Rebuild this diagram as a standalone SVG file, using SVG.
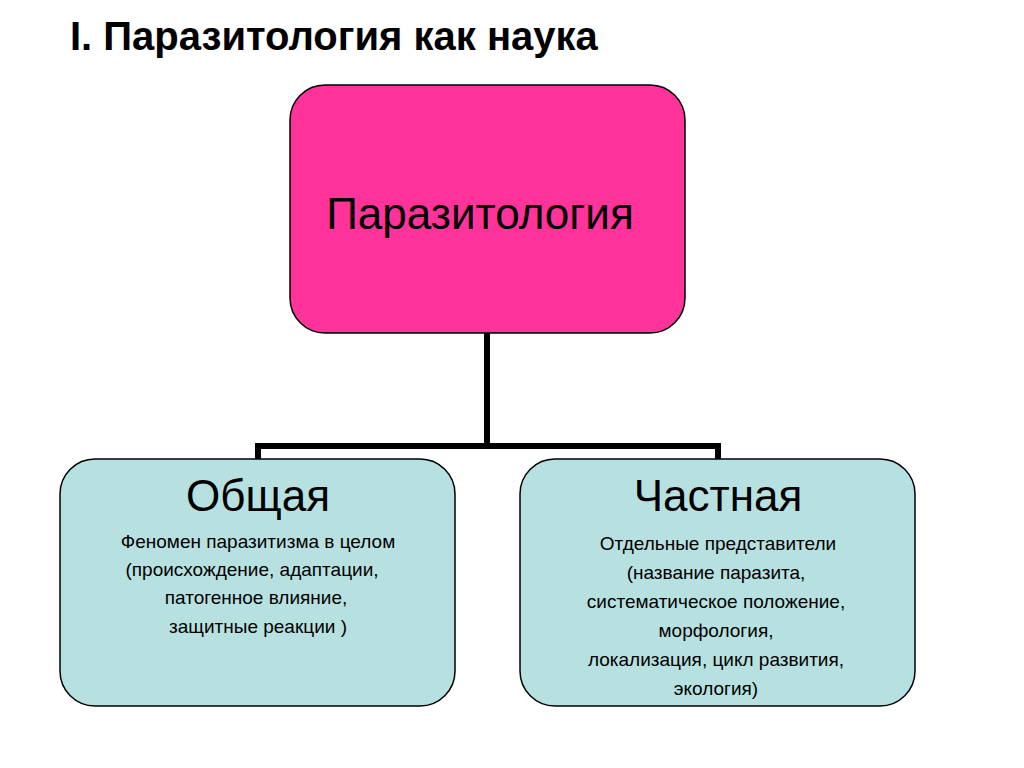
<svg xmlns="http://www.w3.org/2000/svg" width="1024" height="768" viewBox="0 0 1024 768">
<style>
text{font-family:"Liberation Sans",Arial,sans-serif;fill:#000;text-anchor:middle}
.box{fill:#b7e1e1;stroke:#000;stroke-width:1.5}
.s{font-size:19px}
.c{fill:none;stroke:#000;stroke-width:6}
</style>
<rect width="1024" height="768" fill="#fff"/>
<text x="70" y="50" style="font-size:40px;font-weight:bold;text-anchor:start">I. Паразитология как наука</text>
<g id="connectors">
<path class="c" d="M487 333V443M258 446H718M258 443V460M718 443V460"/>
</g>
<g id="root">
<rect x="290" y="85" width="395" height="248" rx="35" fill="#ff3399" stroke="#000" stroke-width="1.5"/>
<text x="480" y="229" style="font-size:44px">Паразитология</text>
</g>
<g id="general">
<rect class="box" x="60" y="459" width="395" height="247" rx="35"/>
<text x="258" y="511" style="font-size:44px">Общая</text>
<text class="s" x="258" y="548">Феномен паразитизма в целом</text>
<text class="s" x="252" y="576">(происхождение, адаптации,</text>
<text class="s" x="256" y="604">патогенное влияние,</text>
<text class="s" x="258" y="633">защитные реакции )</text>
</g>
<g id="particular">
<rect class="box" x="520" y="459" width="395" height="247" rx="35"/>
<text x="718" y="511" style="font-size:44px">Частная</text>
<text class="s" x="718" y="550">Отдельные представители</text>
<text class="s" x="716" y="579">(название паразита,</text>
<text class="s" x="716" y="608">систематическое положение,</text>
<text class="s" x="716" y="637">морфология,</text>
<text class="s" x="716" y="666">локализация, цикл развития,</text>
<text class="s" x="716" y="695">экология)</text>
</g>
</svg>
